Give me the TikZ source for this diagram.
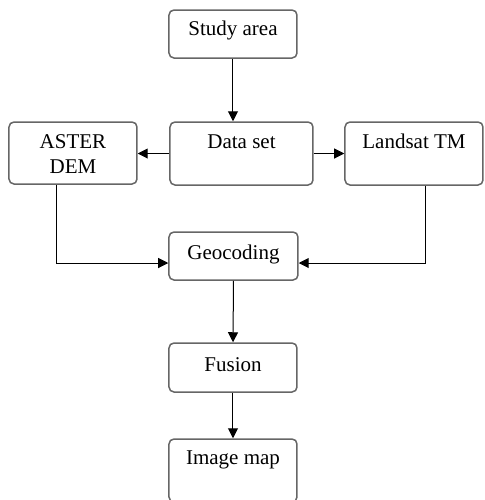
\documentclass[tikz,border=0pt]{standalone}
\usepackage{fontspec}
\setmainfont{Liberation Serif}
\usetikzlibrary{arrows.meta}

\tikzset{
  blk/.style={draw=black!60, line width=0.75pt, rounded corners=2.5pt,
    inner xsep=0pt, inner ysep=0pt, align=center,
    font=\fontsize{10.5}{12.5}\selectfont},
  arr/.style={-{Triangle[length=5pt,width=5pt]}, line width=0.5pt}
}

\begin{document}
\begin{tikzpicture}[x=0.5pt, y=-0.5pt]
  %--- frame ---
  \useasboundingbox (0,0) rectangle (484,500);
  \clip (0,0) rectangle (484,500);
  %--- boxes ---
  \node[blk, minimum width=64pt, text height=12.5pt, text depth=11.5pt]
    (study) at (233,34) {Study area};
  \node[blk, minimum width=71.5pt, text height=13pt, text depth=18.5pt]
    (data) at (241.5,153.5) {Data set};
  \node[blk, minimum width=64pt, text height=25.5pt, text depth=5.5pt]
    (aster) at (73,153) {ASTER\\DEM};
  \node[blk, minimum width=69pt, text height=13pt, text depth=18.5pt]
    (landsat) at (414,153.5) {Landsat TM};
  \node[blk, minimum width=64.5pt, text height=13.5pt, text depth=10.5pt]
    (geo) at (233.5,256) {Geocoding};
  \node[blk, minimum width=64pt, text height=14pt, text depth=10.5pt]
    (fusion) at (233,367.5) {Fusion};
  \node[blk, minimum width=64pt, text height=12.5pt, text depth=19pt]
    (imap) at (233,470.5) {Image map};
  %--- connectors ---
  \draw[arr] (study.south) -- (study.south |- data.north);
  \draw[arr] (data.west) -- (aster.east |- data.west);
  \draw[arr] (data.east) -- (landsat.west |- data.east);
  % side branches into geocoding
  \draw[arr] ([xshift=-8pt]aster.south) |- ([yshift=-3.5pt]geo.west);
  \draw[arr] ([xshift=6pt]landsat.south) |- ([yshift=-3.5pt]geo.east);
  % main chain
  \foreach \a/\b in {geo/fusion, fusion/imap} {
    \draw[arr] (\a.south) -- (\b.north);
  }
\end{tikzpicture}
\end{document}
